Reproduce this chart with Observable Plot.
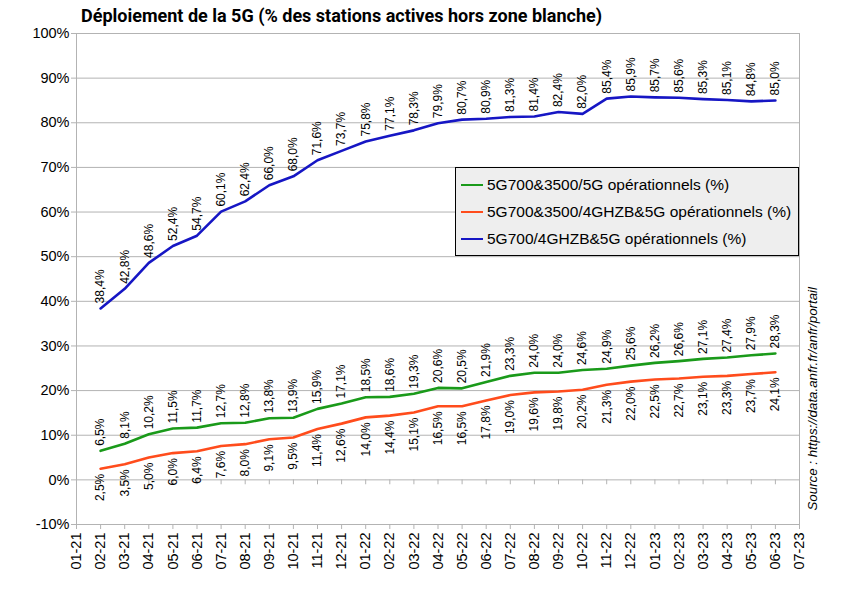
<!DOCTYPE html>
<html>
<head>
<meta charset="utf-8">
<script src="https://cdn.jsdelivr.net/npm/d3@7"></script>
<script src="https://cdn.jsdelivr.net/npm/@observablehq/plot@0.6"></script>
<style>
  body { margin: 0; background: #fff; }
  #wrap { position: relative; width: 841px; height: 595px; font-family: "Liberation Sans", Arial, sans-serif; }
  #title { position: absolute; left: 81px; top: 5px; font-family: Roboto, "Liberation Sans", sans-serif; font-weight: 700; font-size: 18px; color: #000; white-space: nowrap; }
  #legend { position: absolute; left: 455px; top: 167px; width: 342px; height: 87px; background: #eeeeee; border: 1px solid #000; box-sizing: content-box; }
  .item { position: absolute; left: 5px; height: 20px; display: flex; align-items: center; font-size: 15.5px; color: #000; white-space: nowrap; }
  .swatch { width: 22px; height: 2.5px; margin-right: 4px; }
  #chart { position: absolute; left: 0; top: 0; }
</style>
</head>
<body>
<div id="wrap">
  <div id="chart"></div>
  <div id="title"></div>
  <div id="legend"></div>
</div>
<script>
const titleText = "Déploiement de la 5G (% des stations actives hors zone blanche)";
const sourceText = "Source : https://data.anfr.fr/anfr/portail";
const tickLabels = ["01-21","02-21","03-21","04-21","05-21","06-21","07-21","08-21","09-21","10-21","11-21","12-21",
  "01-22","02-22","03-22","04-22","05-22","06-22","07-22","08-22","09-22","10-22","11-22","12-22",
  "01-23","02-23","03-23","04-23","05-23","06-23","07-23"];
const months = ["02-21","03-21","04-21","05-21","06-21","07-21","08-21","09-21","10-21","11-21","12-21",
  "01-22","02-22","03-22","04-22","05-22","06-22","07-22","08-22","09-22","10-22","11-22","12-22",
  "01-23","02-23","03-23","04-23","05-23","06-23"];
const greenValues = [6.5, 8.1, 10.2, 11.5, 11.7, 12.7, 12.8, 13.8, 13.9, 15.9, 17.1, 18.5, 18.6, 19.3, 20.6, 20.5, 21.9, 23.3, 24.0, 24.0, 24.6, 24.9, 25.6, 26.2, 26.6, 27.1, 27.4, 27.9, 28.3];
const orangeValues = [2.5, 3.5, 5.0, 6.0, 6.4, 7.6, 8.0, 9.1, 9.5, 11.4, 12.6, 14.0, 14.4, 15.1, 16.5, 16.5, 17.8, 19.0, 19.6, 19.8, 20.2, 21.3, 22.0, 22.5, 22.7, 23.1, 23.3, 23.7, 24.1];
const blueValues = [38.4, 42.8, 48.6, 52.4, 54.7, 60.1, 62.4, 66.0, 68.0, 71.6, 73.7, 75.8, 77.1, 78.3, 79.9, 80.7, 80.9, 81.3, 81.4, 82.4, 82.0, 85.4, 85.9, 85.7, 85.6, 85.3, 85.1, 84.8, 85.0];
const seriesNames = ["5G700&3500/5G opérationnels (%)", "5G700&3500/4GHZB&5G opérationnels (%)", "5G700/4GHZB&5G opérationnels (%)"];
const seriesColors = ["#1a9a1a", "#ff4c1c", "#1616c4"];
const yTicks = [-10, 0, 10, 20, 30, 40, 50, 60, 70, 80, 90, 100];

const seriesValues = [greenValues, orangeValues, blueValues];
const rows = [];
seriesValues.forEach((vals, s) => vals.forEach((v, i) => rows.push({
  series: seriesNames[s], idx: tickLabels.indexOf(months[i]), value: v, below: s === 1
})));
const fmt = v => v.toFixed(1).replace(".", ",") + "%";
const tickIdx = tickLabels.map((_, i) => i);

const font = "Liberation Sans, Arial, sans-serif";
const chart = Plot.plot({
  width: 841,
  height: 595,
  marginLeft: 76,
  marginRight: 42,
  marginTop: 33,
  marginBottom: 71,
  style: { fontFamily: font, fontSize: "14px", color: "#000", background: "transparent" },
  x: { domain: [0, tickLabels.length - 1], ticks: tickIdx, tickFormat: i => tickLabels[i], tickRotate: -90, tickSize: 5, tickPadding: 3, label: null },
  y: { domain: [-10, 100], ticks: yTicks, tickFormat: d => d + "%", tickSize: 5, tickPadding: 2, label: null },
  color: { domain: seriesNames, range: seriesColors },
  marks: [
    Plot.gridY(yTicks, { stroke: "#b3b3b3", strokeOpacity: 1, strokeWidth: 1 }),
    Plot.frame({ stroke: "#b3b3b3", strokeWidth: 1 }),
    Plot.axisY({ ticks: yTicks, tickFormat: d => d + "%", tickSize: 5, tickPadding: 2, stroke: "#b3b3b3", fontSize: 14.5, fill: "#000", label: null }),
    Plot.axisX({ ticks: tickIdx, tickFormat: i => tickLabels[i], tickRotate: -90, tickSize: 5, tickPadding: 3, stroke: "#b3b3b3", fontSize: 14.5, fill: "#000", label: null }),
    Plot.ruleX(tickIdx, { x: d => d, y1: 0, y2: -1.1, stroke: "#b3b3b3" }),
    Plot.line(rows, { x: "idx", y: "value", z: "series", stroke: "series", strokeWidth: 2.6 }),
    Plot.text(rows.filter(d => !d.below), { x: "idx", y: "value", text: d => fmt(d.value), rotate: -90, textAnchor: "start", lineAnchor: "middle", dy: -5, fontSize: 12, fill: "#000" }),
    Plot.text(rows.filter(d => d.below), { x: "idx", y: "value", text: d => fmt(d.value), rotate: -90, textAnchor: "end", lineAnchor: "middle", dy: 5, fontSize: 12, fill: "#000" }),
    Plot.text([sourceText], { frameAnchor: "bottom-right", text: d => d, rotate: -90, textAnchor: "start", lineAnchor: "middle", dx: 13, dy: -14, fontSize: 13.3, fontStyle: "italic", fill: "#000" })
  ]
});
document.getElementById("chart").appendChild(chart);
document.getElementById("title").textContent = titleText;

const legend = document.getElementById("legend");
const legendTops = [7, 34, 61];
seriesNames.forEach((name, i) => {
  const item = document.createElement("div");
  item.className = "item";
  item.style.top = legendTops[i] + "px";
  const sw = document.createElement("span");
  sw.className = "swatch";
  sw.style.background = seriesColors[i];
  const t = document.createElement("span");
  t.textContent = name;
  item.appendChild(sw);
  item.appendChild(t);
  legend.appendChild(item);
});
</script>
</body>
</html>
